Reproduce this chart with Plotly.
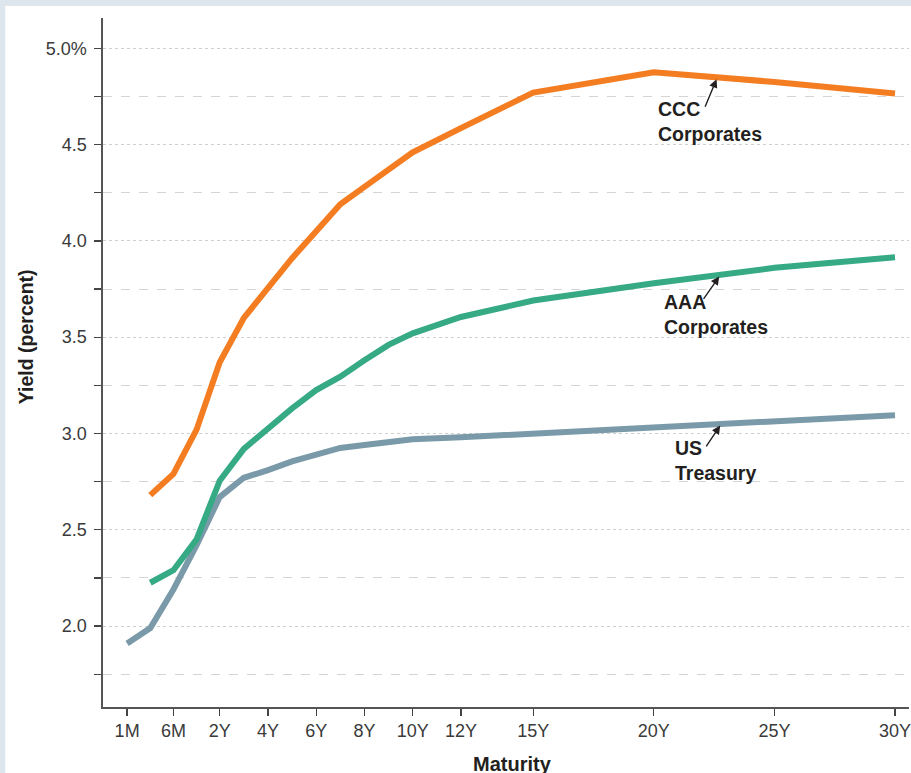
import plotly.graph_objects as go

# ---------------- data ----------------
maturities = ["1M", "3M", "6M", "1Y", "2Y", "3Y", "4Y", "5Y", "6Y", "7Y", "8Y",
              "9Y", "10Y", "12Y", "15Y", "20Y", "25Y", "30Y"]

us_treasury = [1.91, 1.99, 2.19, 2.42, 2.67, 2.77, 2.81, 2.855, 2.89, 2.925, 2.94,
               2.955, 2.97, 2.98, 3.00, 3.03, 3.06, 3.095]
aaa_corporates = [None, 2.225, 2.29, 2.45, 2.755, 2.92, 3.03, 3.13, 3.225, 3.295, 3.38,
                  3.46, 3.52, 3.605, 3.69, 3.78, 3.86, 3.915]
ccc_corporates = [None, 2.68, 2.79, 3.02, 3.37, 3.60, 3.76, 3.91, 4.05, 4.19, 4.28,
                  4.37, 4.46, 4.585, 4.77, 4.875, 4.825, 4.765]

x_tick_labels = ["1M", "6M", "2Y", "4Y", "6Y", "8Y", "10Y", "12Y", "15Y", "20Y", "25Y", "30Y"]
y_major_vals = [2.0, 2.5, 3.0, 3.5, 4.0, 4.5, 5.0]
y_major_text = ["2.0", "2.5", "3.0", "3.5", "4.0", "4.5", "5.0%"]
y_minor_vals = [1.75, 2.25, 2.75, 3.25, 3.75, 4.25, 4.75]

# ---------------- maturity scale ----------------
SHORT_END = ["1M", "3M", "6M", "1Y"]
SHORT_STEP = 0.96


def axis_pos(label):
    """Position on the maturity axis: short-end buckets evenly spaced, years linear from 2Y."""
    if label in SHORT_END:
        return 2 - SHORT_STEP * (len(SHORT_END) - SHORT_END.index(label))
    return float(label.rstrip("Y"))


x_pos = [axis_pos(m) for m in maturities]

ORANGE = "#F47D22"
GREEN = "#35AA84"
SLATE = "#7A9AA9"
TEXT = "#231f20"
FONT = "Liberation Sans, Arial, sans-serif"

fig = go.Figure()
for name, vals, col in [("US Treasury", us_treasury, SLATE),
                        ("AAA Corporates", aaa_corporates, GREEN),
                        ("CCC Corporates", ccc_corporates, ORANGE)]:
    fig.add_trace(go.Scatter(x=x_pos, y=vals, mode="lines", name=name,
                             line=dict(color=col, width=6), connectgaps=False,
                             hoverinfo="skip"))

# plot-area geometry (pixels) used to place the panel border
W, H = 911, 773
ML, MR, MT, MB = 103, 0, 18, 66
pw, ph = W - ML - MR, H - MT - MB


def px_x(px):
    return (px - ML) / pw


def px_y(py):
    return (H - MB - py) / ph


shapes = [
    dict(type="rect", xref="paper", yref="paper", layer="below",
         x0=px_x(5), x1=px_x(W + 20), y0=px_y(H + 20), y1=px_y(6),
         fillcolor="white", line=dict(width=0)),
]

annotations = []
# series labels
labels = [
    ("CCC<br>Corporates", 20.09, 4.618, (22.6, 4.839), (22.1, 4.689)),
    ("AAA<br>Corporates", 20.33, 3.618, (22.71, 3.815), (22.02, 3.691)),
    ("US<br>Treasury", 20.78, 2.862, (22.75, 3.041), (22.13, 2.925)),
]
for txt, tx, ty, head, tail in labels:
    annotations.append(dict(x=tx, y=ty, xref="x", yref="y", text=txt, showarrow=False,
                            xanchor="left", yanchor="middle", align="left",
                            font=dict(family=FONT, size=19.5, color=TEXT, weight="bold")))
    annotations.append(dict(x=head[0], y=head[1], xref="x", yref="y",
                            ax=tail[0], ay=tail[1], axref="x", ayref="y",
                            text="", showarrow=True, arrowhead=2, arrowsize=1.2,
                            arrowwidth=1.4, arrowcolor=TEXT, standoff=0, startstandoff=0))

# axis titles
annotations.append(dict(x=px_x(514), y=px_y(764), xref="paper", yref="paper",
                        text="Maturity", showarrow=False, xanchor="center", yanchor="middle",
                        font=dict(family=FONT, size=20, color=TEXT, weight="bold")))
annotations.append(dict(x=px_x(26), y=px_y(337), xref="paper", yref="paper",
                        text="Yield (percent)", showarrow=False, textangle=-90,
                        xanchor="center", yanchor="middle",
                        font=dict(family=FONT, size=19.5, color=TEXT, weight="bold")))

fig.update_layout(
    width=W, height=H,
    margin=dict(l=ML, r=MR, t=MT, b=MB, pad=0),
    paper_bgcolor="#dee6ed",
    plot_bgcolor="rgba(0,0,0,0)",
    showlegend=False,
    shapes=shapes,
    annotations=annotations,
    font=dict(family=FONT, color="#3a3a3a", size=18),
    xaxis=dict(
        range=[-2.84, 30.58],
        tickmode="array",
        tickvals=[axis_pos(t) for t in x_tick_labels],
        ticktext=x_tick_labels,
        ticks="outside", ticklen=7, tickwidth=1.3, tickcolor="#444",
        showline=True, linecolor="#555", linewidth=1.6,
        showgrid=False, zeroline=False,
        tickfont=dict(size=18, color="#3a3a3a"),
        ticklabeloverflow="allow",
        fixedrange=True,
    ),
    yaxis=dict(
        range=[1.58, 5.157],
        tickmode="array",
        tickvals=y_major_vals,
        ticktext=y_major_text,
        ticks="outside", ticklen=7, tickwidth=1.3, tickcolor="#444",
        showline=True, linecolor="#555", linewidth=1.6,
        showgrid=True, gridcolor="#cfcfcf", gridwidth=1, griddash="dot",
        zeroline=False,
        tickfont=dict(size=18, color="#3a3a3a"),
        ticklabelstandoff=4,
        minor=dict(tickmode="array", tickvals=y_minor_vals, ticks="outside",
                   ticklen=7, tickwidth=1.3, tickcolor="#444",
                   showgrid=True, gridcolor="#d4d4d4", gridwidth=1, griddash="dash"),
        fixedrange=True,
    ),
)

fig.write_html("out.html", include_plotlyjs=True,
               config={"displayModeBar": False, "staticPlot": True},
               post_script="document.body.style.margin='0';document.body.style.overflow='hidden';")
